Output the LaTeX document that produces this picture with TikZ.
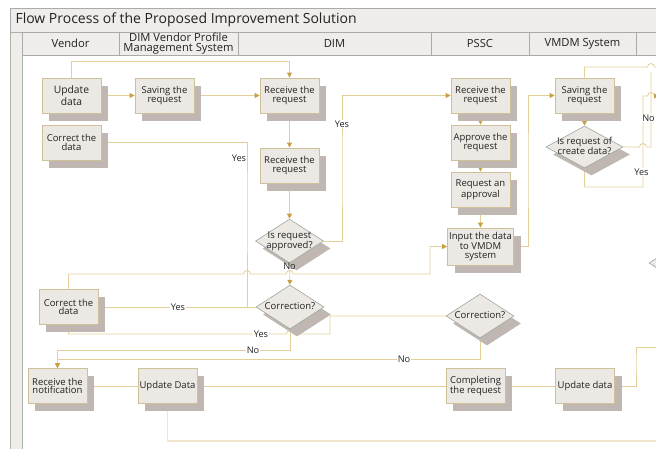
\documentclass[tikz,border=0pt]{standalone}
\usepackage{fontspec}
\setmainfont{Open Sans}
\usetikzlibrary{arrows.meta,shapes.geometric,shadows,backgrounds}
\definecolor{boxfill}{RGB}{236,233,229}
\definecolor{boxline}{RGB}{206,192,152}
\definecolor{shade}{RGB}{192,183,178}
\definecolor{diaLine}{RGB}{158,166,158}
\definecolor{connc}{RGB}{228,207,152}
\definecolor{connLight}{RGB}{240,230,205}
\definecolor{tipc}{RGB}{201,160,70}
\definecolor{barfill}{RGB}{239,236,233}
\definecolor{barline}{RGB}{170,170,170}
\definecolor{stripline}{RGB}{168,180,170}
\definecolor{txt}{RGB}{34,34,34}
\newcommand{\qtext}[1]{\makebox[0pt]{\begin{tabular}{@{}c@{}}#1\end{tabular}}}

\begin{document}
\begin{tikzpicture}[x=1pt, y=-1pt, text=txt, font=\fontsize{9.5}{8.7}\selectfont,
	proc/.style={rectangle, draw=boxline, fill=boxfill, line width=0.8pt, minimum width=59pt, minimum height=35pt, inner sep=1pt, align=center,
		drop shadow={shadow xshift=7pt, shadow yshift=-7.5pt, fill=shade, opacity=1}},
	decis/.style={diamond, draw=diaLine, fill=boxfill, line width=0.6pt, minimum width=68pt, minimum height=44pt, inner sep=0pt,
		drop shadow={shadow xshift=7pt, shadow yshift=-7.5pt, fill=shade, opacity=1}},
	conn/.style={draw=connc, line width=0.8pt},
	arr/.style={conn, -{Triangle[length=5pt, width=5pt, color=tipc]}},
	lbl/.style={fill=white, inner sep=0.5pt, font=\fontsize{9.2}{9}\selectfont},
	bar/.style={draw=barline, fill=barfill, line width=0.6pt},
	htext/.style={inner sep=0pt, align=center, font=\fontsize{11.2}{10.4}\selectfont}]
\useasboundingbox (0,0) rectangle (656,448);

% Titel und Bahnen
\draw[bar] (10,8) rectangle (662,32);
\node[anchor=west, font=\fontsize{14}{16}\selectfont] (title) at (12,20) {Flow Process of the Proposed Improvement Solution};
\draw[bar, draw=stripline] (10,32) rectangle (22,452);
\draw[bar] (22,32) rectangle (119,55);
\draw[bar] (119,32) rectangle (238,55);
\draw[bar] (238,32) rectangle (431,55);
\draw[bar] (431,32) rectangle (529,55);
\draw[bar] (529,32) rectangle (636,55);
\draw[bar] (636,32) rectangle (662,55);
\node[htext] (hVendor) at (70.5,43.5) {Vendor};
\node[htext] (hVpms) at (178.5,43.5) {DIM Vendor Profile\\Management System};
\node[htext] (hDim) at (334.5,43.5) {DIM};
\node[htext] (hPssc) at (480,43.5) {PSSC};
\node[htext] (hVmdm) at (582.5,43.5) {VMDM System};

% Vendor
\node[proc, font=\fontsize{10.3}{10}\selectfont] (upd) at (71.5,95.5) {Update\\data};
\node[proc] (corTop) at (71.5,142.5) {Correct the\\data};
\node[proc] (corBot) at (68.5,307) {Correct the\\data};
\node[proc] (rcvNote) at (57.5,386) {Receive the\\notification};

% DIM Vendor Profile Management System
\node[proc] (savReq) at (164.5,95.5) {Saving the\\request};
\node[proc] (updDataVP) at (167.5,386) {Update Data};

% DIM
\node[proc] (rcv1) at (289.5,95.5) {Receive the\\request};
\node[proc] (rcv2) at (289.5,165.5) {Receive the\\request};
\node[decis] (apprQ) at (289.5,241) {\qtext{Is request\\approved?}};
\node[decis] (corQ) at (290,307) {\qtext{Correction?}};

% PSSC
\node[proc] (psscRcv) at (480.5,95.5) {Receive the\\request};
\node[proc] (approve) at (480.5,142.5) {Approve the\\request};
\node[proc] (reqAppr) at (480.5,189.5) {Request an\\approval};
\node[proc, minimum width=66pt, minimum height=37pt] (input) at (480.5,246.5) {Input the data\\to VMDM\\system};
\node[decis] (corQP) at (480,316) {\qtext{Correction?}};
\node[proc] (complete) at (475.5,386) {Completing\\the request};

% VMDM System
\node[proc] (vmSave) at (584.5,95.5) {Saving the\\request};
\node[decis, minimum width=77pt, minimum height=42pt] (createQ) at (584.5,147) {\qtext{Is request of\\create data?}};
\node[proc] (updVM) at (585,386) {Update data};
\node[decis] (offQ) at (683,263) {};

% Verbindungen
\begin{pgfonlayer}{background}
	\draw[arr] (upd.north) |- (289.5,61) -- (rcv1.north);
	\draw[arr] (upd) -- (savReq);
	\draw[arr] (savReq) -- (rcv1);
	\draw[arr] (rcv1) -- (rcv2);
	\draw[arr] (rcv2) -- (apprQ);
	\draw[arr] (apprQ.east) -| (342,170) |- (psscRcv.west);
	\draw[arr] (apprQ) -- (corQ);
	\draw[arr] (corQ.west) -| (247,200) |- (corTop.east);
	\draw[arr] (corQ.west) -- (corBot.east);
	\draw[arr] (corBot.north) |- (243.5,274) arc[start angle=180, end angle=0, radius=3.5pt] -- (286,274) arc[start angle=180, end angle=0, radius=3.5pt] -- (430,274) |- (input.west);
	\draw[arr] (psscRcv) -- (approve);
	\draw[arr] (approve) -- (reqAppr);
	\draw[arr] (reqAppr) -- (input);
	\draw[arr] (input.east) -| (528,170) |- (vmSave.west);
	\draw[arr] (vmSave) -- (createQ);
	\draw[arr] (corQP.west) -| (330,325) |- (293.5,334) arc[start angle=0, end angle=180, radius=3.5pt] -| (corBot.south);
	\draw[arr] (corQ.south) |- (57.5,350) -- (rcvNote.north);
	\draw[arr] (corQP.south) |- (57.5,359) -- (rcvNote.north);
	\draw[arr] (updDataVP) -- (rcvNote);
	\draw[arr] (complete) -- (updDataVP);
	\draw[arr] (updVM) -- (complete);
	\draw[conn] (updVM.east) -| (636,360) |- (662,347);
	\draw[conn, draw=connLight, line width=1.8pt] (updDataVP.south) |- (662,441);
	\draw[conn] (vmSave.north) |- (647.5,67) arc[start angle=180, end angle=0, radius=3.5pt] -- (662,67);
	\draw[conn] (createQ.east) -- (639.5,147) arc[start angle=180, end angle=0, radius=3.5pt] -- (651,147) -- (651,72);
	\draw[arr] (createQ.south) |- (643,187) -- (643,96) -- (647.5,96) arc[start angle=180, end angle=0, radius=3.5pt] -- (659,96);
\end{pgfonlayer}

% Beschriftungen
\node[lbl] (yesA) at (342,124) {Yes};
\node[lbl, fill=none] (noA) at (289.5,266) {No};
\node[lbl] (yesB) at (239,158) {Yes};
\node[lbl] (yesC) at (178,307) {Yes};
\node[lbl] (yesD) at (261,334) {Yes};
\node[lbl] (noB) at (253,350) {No};
\node[lbl] (noC) at (404,359) {No};
\node[lbl] (yesE) at (641.5,172) {Yes};
\node[lbl] (noD) at (648.5,118) {No};
\end{tikzpicture}
\end{document}
